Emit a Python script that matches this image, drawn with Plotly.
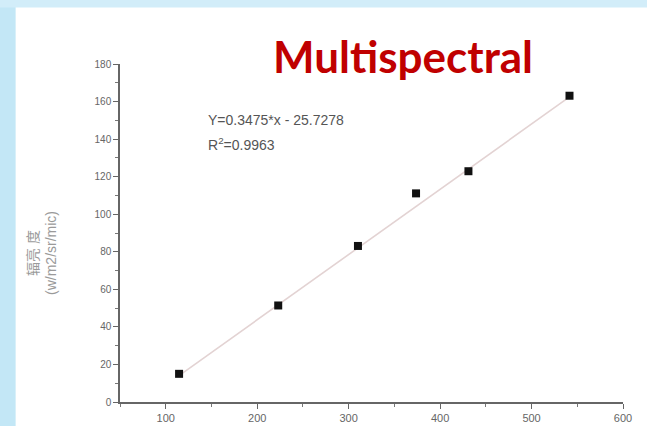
import plotly.graph_objects as go

# Measured radiance vs. digital number
dn_values = [114.6, 223.0, 310.2, 373.7, 431.0, 541.5]
radiance = [15.0, 51.4, 83.1, 111.1, 122.9, 163.1]

slope = 0.3475
intercept = -25.7278
r_squared = 0.9963

x_ticks = [100, 200, 300, 400, 500, 600]
y_ticks = [0, 20, 40, 60, 80, 100, 120, 140, 160, 180]

fit_x = [min(dn_values), max(dn_values)]
fit_y = [slope * v + intercept for v in fit_x]

fig = go.Figure()

fig.add_trace(go.Scatter(
    x=fit_x, y=fit_y, mode="lines",
    line=dict(color="#e3d3d3", width=1.6),
    showlegend=False, hoverinfo="skip",
))
fig.add_trace(go.Scatter(
    x=dn_values, y=radiance, mode="markers",
    marker=dict(symbol="square", size=8, color="#111111"),
    showlegend=False,
))

fig.update_xaxes(
    range=[50, 600], tickvals=x_ticks, showgrid=False, zeroline=False,
    showline=True, linecolor="#666666", linewidth=1.5, automargin=False,
    ticks="outside", ticklen=5, tickcolor="#666666", tickwidth=1.2,
    tickfont=dict(family="Arial, Liberation Sans", size=11, color="#666666"),
    minor=dict(dtick=50, tick0=0, ticks="outside", ticklen=3,
               tickcolor="#777777", showgrid=False),
)
fig.update_yaxes(
    range=[0, 180], tickvals=y_ticks, showgrid=False, zeroline=False,
    showline=True, linecolor="#666666", linewidth=1.5, automargin=False,
    ticks="outside", ticklen=5, tickcolor="#666666", tickwidth=1.2,
    tickfont=dict(family="Arial, Liberation Sans", size=10, color="#666666"),
    minor=dict(dtick=10, tick0=0, ticks="outside", ticklen=3,
               tickcolor="#777777", showgrid=False),
)

# Slide decoration: light blue left strip and dotted top border
fig.add_shape(type="rect", xref="paper", yref="paper",
              x0=-0.25, x1=-0.2075, y0=-0.2, y1=1.3,
              fillcolor="#c3e7f6", line=dict(width=0), layer="below")
fig.add_shape(type="rect", xref="paper", yref="paper",
              x0=-0.25, x1=1.1, y0=1.167, y1=1.3,
              fillcolor="#d2edf9", line=dict(width=0), layer="below")

fig.add_annotation(
    text="<b>Multispectral</b>", xref="paper", yref="paper",
    x=0.563, y=1.025, xanchor="center", yanchor="middle", showarrow=False,
    font=dict(family="Lato, Open Sans", size=44, color="#c00000"),
)
fig.add_annotation(
    text=f"Y={slope}*x - {abs(intercept)}",
    xref="paper", yref="paper", x=0.171, y=0.834,
    xanchor="left", yanchor="middle", showarrow=False,
    font=dict(family="Arial, Liberation Sans", size=14, color="#555555"),
)
fig.add_annotation(
    text=f"R<sup>2</sup>={r_squared}",
    xref="paper", yref="paper", x=0.171, y=0.762,
    xanchor="left", yanchor="middle", showarrow=False,
    font=dict(family="Arial, Liberation Sans", size=14, color="#555555"),
)
fig.add_annotation(
    text="辐亮 度<br>(w/m2/sr/mic)", xref="paper", yref="paper",
    x=-0.155, y=0.441, xanchor="center", yanchor="middle",
    textangle=-90, showarrow=False,
    font=dict(family="Arial, Noto Sans CJK SC", size=14, color="#9a9a9a"),
)

fig.update_layout(
    width=647, height=426,
    margin=dict(l=120, r=24, t=64, b=24),
    paper_bgcolor="white", plot_bgcolor="white",
)

fig.write_html("out.html")
